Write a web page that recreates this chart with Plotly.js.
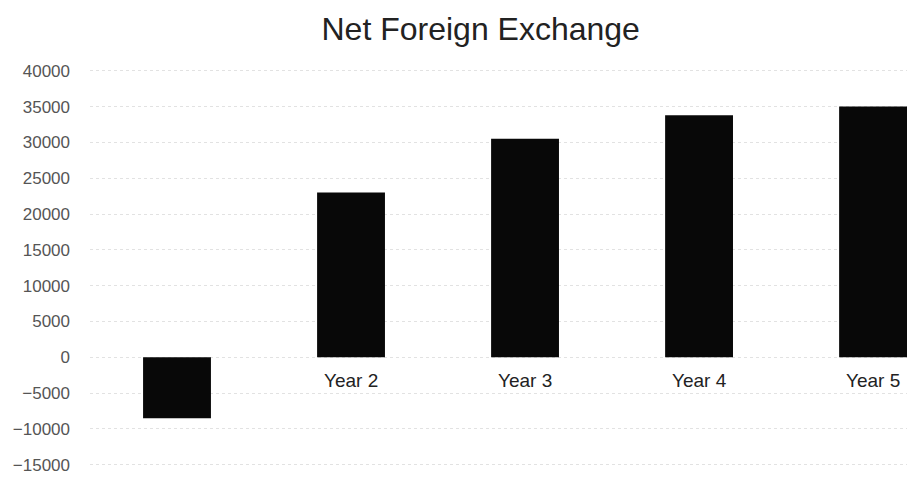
<!DOCTYPE html>
<html>
<head>
<meta charset="utf-8">
<script src="https://cdn.plot.ly/plotly-3.0.1.min.js"></script>
<style>html,body{margin:0;padding:0;background:#fff;}#chart{width:907px;height:482px;}</style>
</head>
<body>
<div id="chart"></div>
<script>
const categories = ["Year 1", "Year 2", "Year 3", "Year 4", "Year 5"];
const netForeignExchange = [-8500, 23000, 30500, 33800, 35000];
const yTickValues = [-15000, -10000, -5000, 0, 5000, 10000, 15000, 20000, 25000, 30000, 35000, 40000];
const chartTitle = "Net Foreign Exchange";

const trace = {
  type: "bar",
  x: categories,
  y: netForeignExchange,
  marker: {color: "#080808", line: {width: 0}},
  hoverinfo: "x+y"
};

const annotations = categories
  .map((c, i) => ({c, v: netForeignExchange[i]}))
  .filter(d => d.v > 0)
  .map(d => ({
    x: d.c, y: 0, xref: "x", yref: "y",
    text: d.c, showarrow: false,
    yanchor: "top", yshift: -11,
    font: {family: "Liberation Sans, Arial, sans-serif", size: 19, color: "#222"}
  }));

const layout = {
  width: 907, height: 482,
  margin: {l: 90, r: 0, t: 40, b: 0},
  paper_bgcolor: "#fff", plot_bgcolor: "#fff",
  showlegend: false,
  bargap: 0.61,
  title: {
    text: chartTitle,
    x: 0.53, xanchor: "center",
    y: 0.94, yanchor: "middle",
    font: {family: "Liberation Sans, Arial, sans-serif", size: 32, color: "#222"}
  },
  xaxis: {
    type: "category",
    range: [-0.5, 4.195],
    showticklabels: false,
    showgrid: false, zeroline: false, showline: false, ticks: ""
  },
  yaxis: {
    range: [-17400, 44300],
    tickvals: yTickValues,
    tickformat: "d",
    showgrid: true, gridcolor: "#e2e2e2", griddash: "dot", gridwidth: 1,
    zeroline: false, showline: false, ticks: "",
    ticklabelstandoff: 19,
    tickfont: {family: "Liberation Sans, Arial, sans-serif", size: 17, color: "#555"}
  },
  annotations: annotations
};

Plotly.newPlot("chart", [trace], layout, {displayModeBar: false, staticPlot: true});
</script>
</body>
</html>
